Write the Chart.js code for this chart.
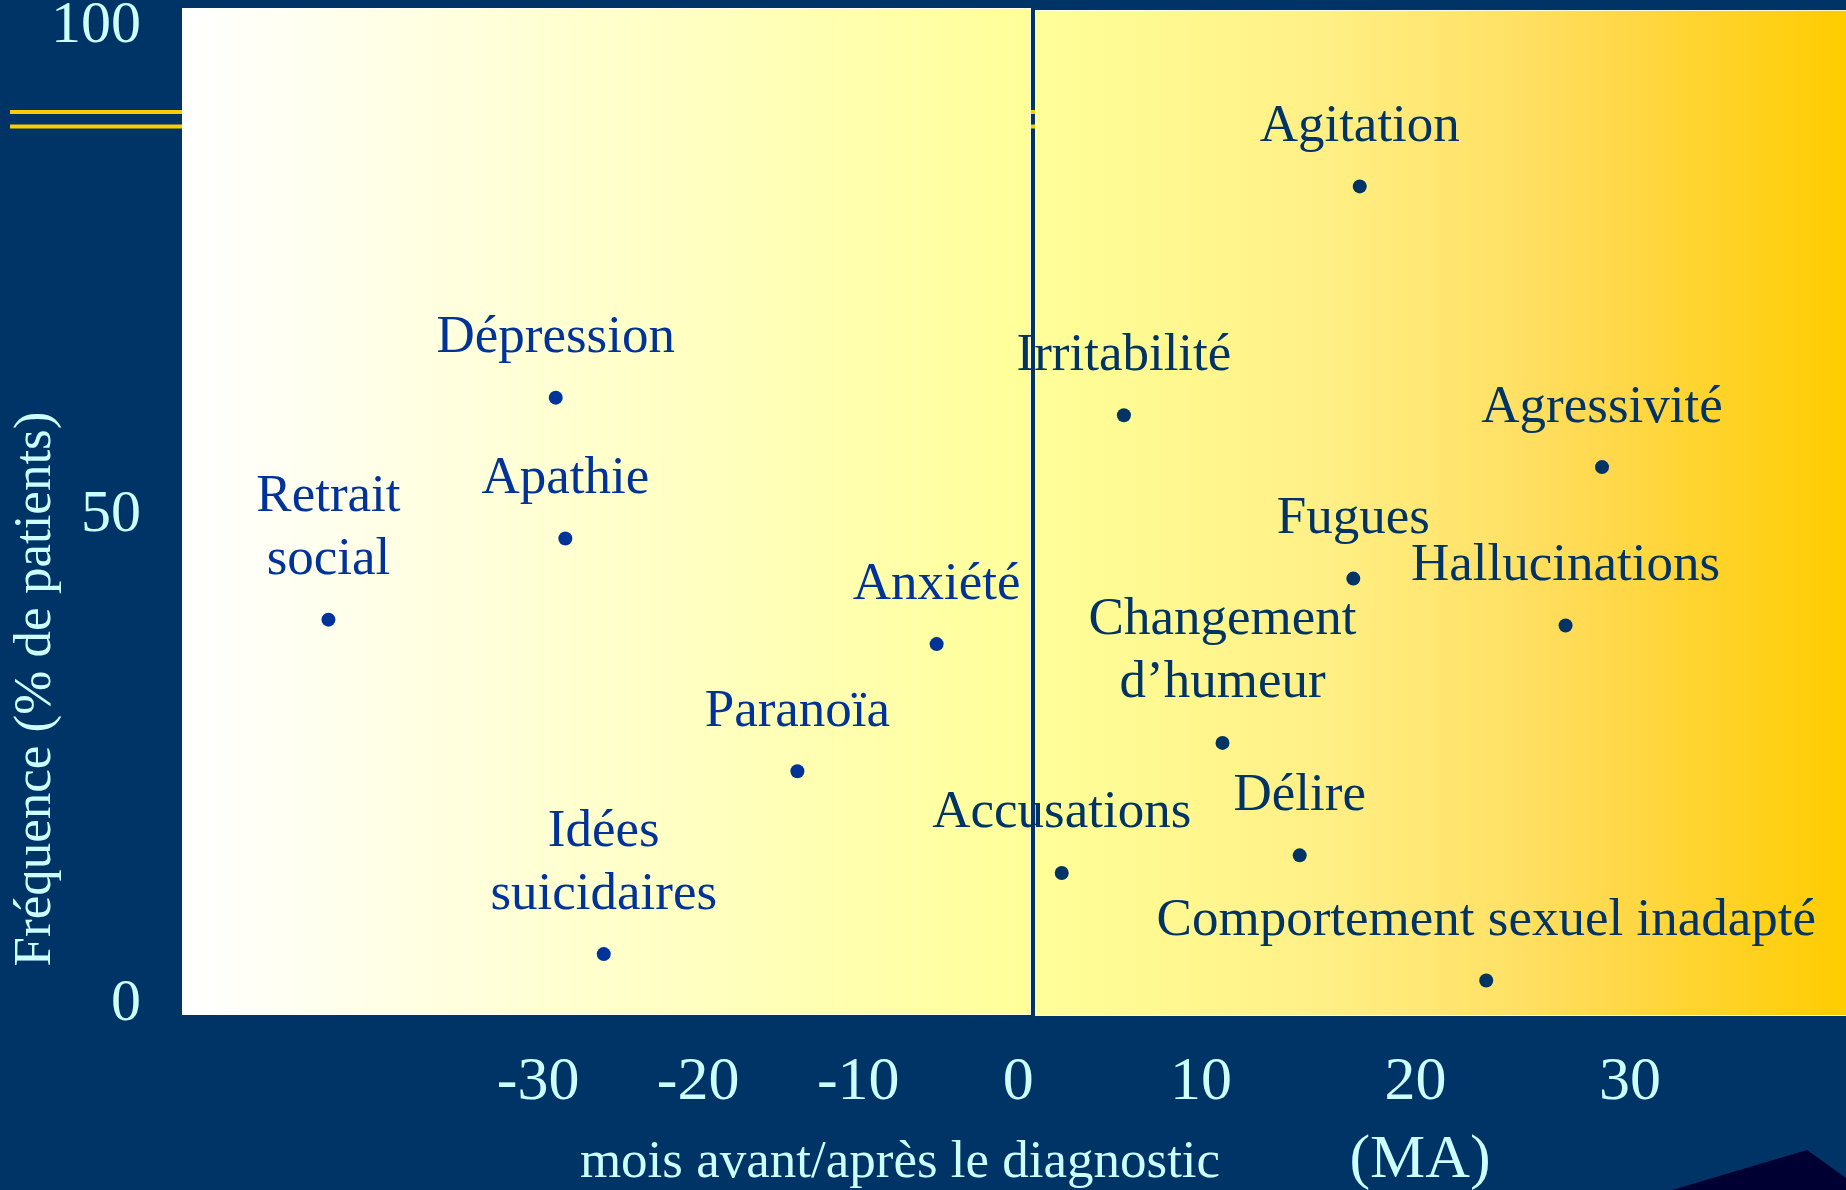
<!DOCTYPE html>
<html lang="fr">
<head>
<meta charset="utf-8">
<title>Symptômes avant / après le diagnostic</title>
<script src="https://cdn.jsdelivr.net/npm/chart.js@4.4.1/dist/chart.umd.min.js"></script>
<style>
    html, body { margin: 0; padding: 0; background: #003366; }
    #wrap { width: 1846px; height: 1190px; }
</style>
</head>
<body>
<div id="wrap"><canvas id="chart"></canvas></div>
<script>
// symptômes avant le diagnostic (mois négatifs)
const beforeLabels = [['Retrait', 'social'], ['Dépression'], ['Apathie'], ['Idées', 'suicidaires'], ['Paranoïa'], ['Anxiété']];
const beforeMonths = [-43.1, -28.9, -28.3, -25.9, -13.8, -5.1];
const beforeFreq = [39.3, 62.0, 47.6, 5.1, 23.8, 36.8];

// symptômes après le diagnostic
const afterLabels = [['Irritabilité'], ['Agitation'], ['Agressivité'], ['Fugues'], ['Hallucinations'],
    ['Changement', 'd\u2019humeur'], ['Accusations'], ['Délire'], ['Comportement sexuel inadapté']];
const afterMonths = [6.4, 17.4, 28.7, 17.1, 27.0, 11.0, 3.5, 14.6, 23.3];
const afterFreq = [60.2, 83.6, 54.9, 43.5, 38.7, 26.7, 13.4, 15.2, 2.4];

// graduations
const beforeTicks = [-30, -20, -10, 0];
const afterTicks = [10, 20, 30];
const freqTicks = [0, 50, 100];

const SERIF = '"Liberation Serif", "Times New Roman", serif';
const LIGHT = '#CCFFFF';
const NAVY = '#003366';

function toPoints(xs, ys)
{
    return xs.map((x, i) => ({x: x, y: ys[i]}));
}

function fitX(scale)
{
    scale.height = 175;
    scale.paddingLeft = 0;
    scale.paddingRight = 0;
}

function xAxis(min, max, weight, tickList)
{
    return {
        type: 'linear',
        axis: 'x',
        position: 'bottom',
        stack: 'mois',
        stackWeight: weight,
        min: min,
        max: max,
        grid: {display: false, drawTicks: false},
        border: {display: false},
        afterBuildTicks: s => { s.ticks = tickList.map(v => ({value: v})); },
        afterFit: fitX,
        ticks: {
            color: LIGHT,
            font: {family: SERIF, size: 62},
            padding: 31,
            autoSkip: false,
            maxRotation: 0,
            callback: v => String(v)
        }
    };
}

// fond, bandeaux jaunes et panneaux dégradés
const decor = {
    id: 'decor',
    beforeDraw(chart) {
        const ctx = chart.ctx;
        const a = chart.chartArea;
        const W = chart.width, H = chart.height;
        const split = chart.scales.xb.right;
        ctx.save();
        ctx.fillStyle = NAVY;
        ctx.fillRect(0, 0, W, H);

        ctx.fillStyle = '#FFCC00';
        ctx.fillRect(10, 110, W - 10, 4);
        ctx.fillRect(10, 124.5, W - 10, 4);

        ctx.fillStyle = '#000033';
        ctx.beginPath();
        ctx.moveTo(W - 174, H);
        ctx.lineTo(W - 39, H - 40);
        ctx.lineTo(W, H - 12);
        ctx.lineTo(W, H);
        ctx.closePath();
        ctx.fill();

        let g = ctx.createLinearGradient(a.left, 0, split - 2, 0);
        g.addColorStop(0, '#FFFFFF');
        g.addColorStop(1, '#FFFF99');
        ctx.fillStyle = g;
        ctx.fillRect(a.left, a.top - 1, split - 2 - a.left, a.bottom - a.top + 1);
        ctx.strokeStyle = 'rgba(255,255,255,0.8)';
        ctx.lineWidth = 1;
        ctx.strokeRect(a.left + 0.5, a.top - 0.5, split - 3 - a.left, a.bottom - a.top);

        g = ctx.createLinearGradient(split + 2, 0, a.right, 0);
        g.addColorStop(0, '#FFFF99');
        g.addColorStop(0.35, '#FFF086');
        g.addColorStop(0.6, '#FFE063');
        g.addColorStop(0.7, '#FFD94E');
        g.addColorStop(1, '#FFCC00');
        ctx.fillStyle = g;
        ctx.fillRect(split + 2, a.top + 1, a.right - split - 2, a.bottom - a.top);
        ctx.strokeRect(split + 2.5, a.top + 1.5, a.right - split - 2, a.bottom - a.top - 1);
        ctx.restore();
    },
    afterDatasetsDraw(chart) {
        const ctx = chart.ctx;
        ctx.save();
        ctx.font = '53px ' + SERIF;
        ctx.textAlign = 'center';
        ctx.textBaseline = 'alphabetic';
        chart.data.datasets.forEach((ds, i) => {
            ctx.fillStyle = ds.backgroundColor;
            chart.getDatasetMeta(i).data.forEach((el, j) => {
                const lines = ds.names[j];
                lines.forEach((txt, k) => {
                    ctx.fillText(txt, el.x, el.y - 45.5 - (lines.length - 1 - k) * 63);
                });
            });
        });
        ctx.restore();
    },
    afterDraw(chart) {
        const ctx = chart.ctx;
        const a = chart.chartArea;
        ctx.save();
        ctx.fillStyle = LIGHT;
        ctx.textAlign = 'center';
        ctx.textBaseline = 'alphabetic';
        ctx.font = '53px ' + SERIF;
        ctx.fillText('mois avant/après le diagnostic', 900, a.bottom + 162);
        ctx.font = '62px ' + SERIF;
        ctx.fillText('(MA)', 1420, a.bottom + 162);

        ctx.translate(50, 689);
        ctx.rotate(-Math.PI / 2);
        ctx.font = '53px ' + SERIF;
        ctx.fillText('Fréquence (% de patients)', 0, 0);
        ctx.restore();
    }
};

let canvas = document.getElementById('chart');
let chart = new Chart(canvas, {
    type: 'scatter',
    data: {
        datasets: [
            {
                label: 'Avant le diagnostic',
                data: toPoints(beforeMonths, beforeFreq),
                names: beforeLabels,
                xAxisID: 'xb',
                backgroundColor: '#003399',
                borderWidth: 0,
                pointRadius: 7
            },
            {
                label: 'Après le diagnostic',
                data: toPoints(afterMonths, afterFreq),
                names: afterLabels,
                xAxisID: 'xa',
                backgroundColor: NAVY,
                borderWidth: 0,
                pointRadius: 7
            }
        ]
    },
    options: {
        responsive: true,
        maintainAspectRatio: false,
        animation: false,
        devicePixelRatio: 1,
        layout: {autoPadding: false, padding: {top: 9, left: 0, right: 0, bottom: 0}},
        plugins: {
            legend: {display: false},
            tooltip: {enabled: false}
        },
        scales: {
            xb: xAxis(-52.25, 0.92, 851, beforeTicks),
            xa: xAxis(2.16, 40.08, 813, afterTicks),
            y: {
                type: 'linear',
                position: 'left',
                min: -1.125,
                max: 101.74,
                grid: {display: false, drawTicks: false},
                border: {display: false},
                afterBuildTicks: s => { s.ticks = freqTicks.map(v => ({value: v})); },
                afterFit: s => {
                    s.width = 182;
                    s.paddingTop = 0;
                    s.paddingBottom = 0;
                },
                ticks: {
                    color: LIGHT,
                    font: {family: SERIF, size: 60},
                    padding: 41,
                    callback: v => String(v)
                }
            }
        }
    },
    plugins: [decor]
});
</script>
</body>
</html>
